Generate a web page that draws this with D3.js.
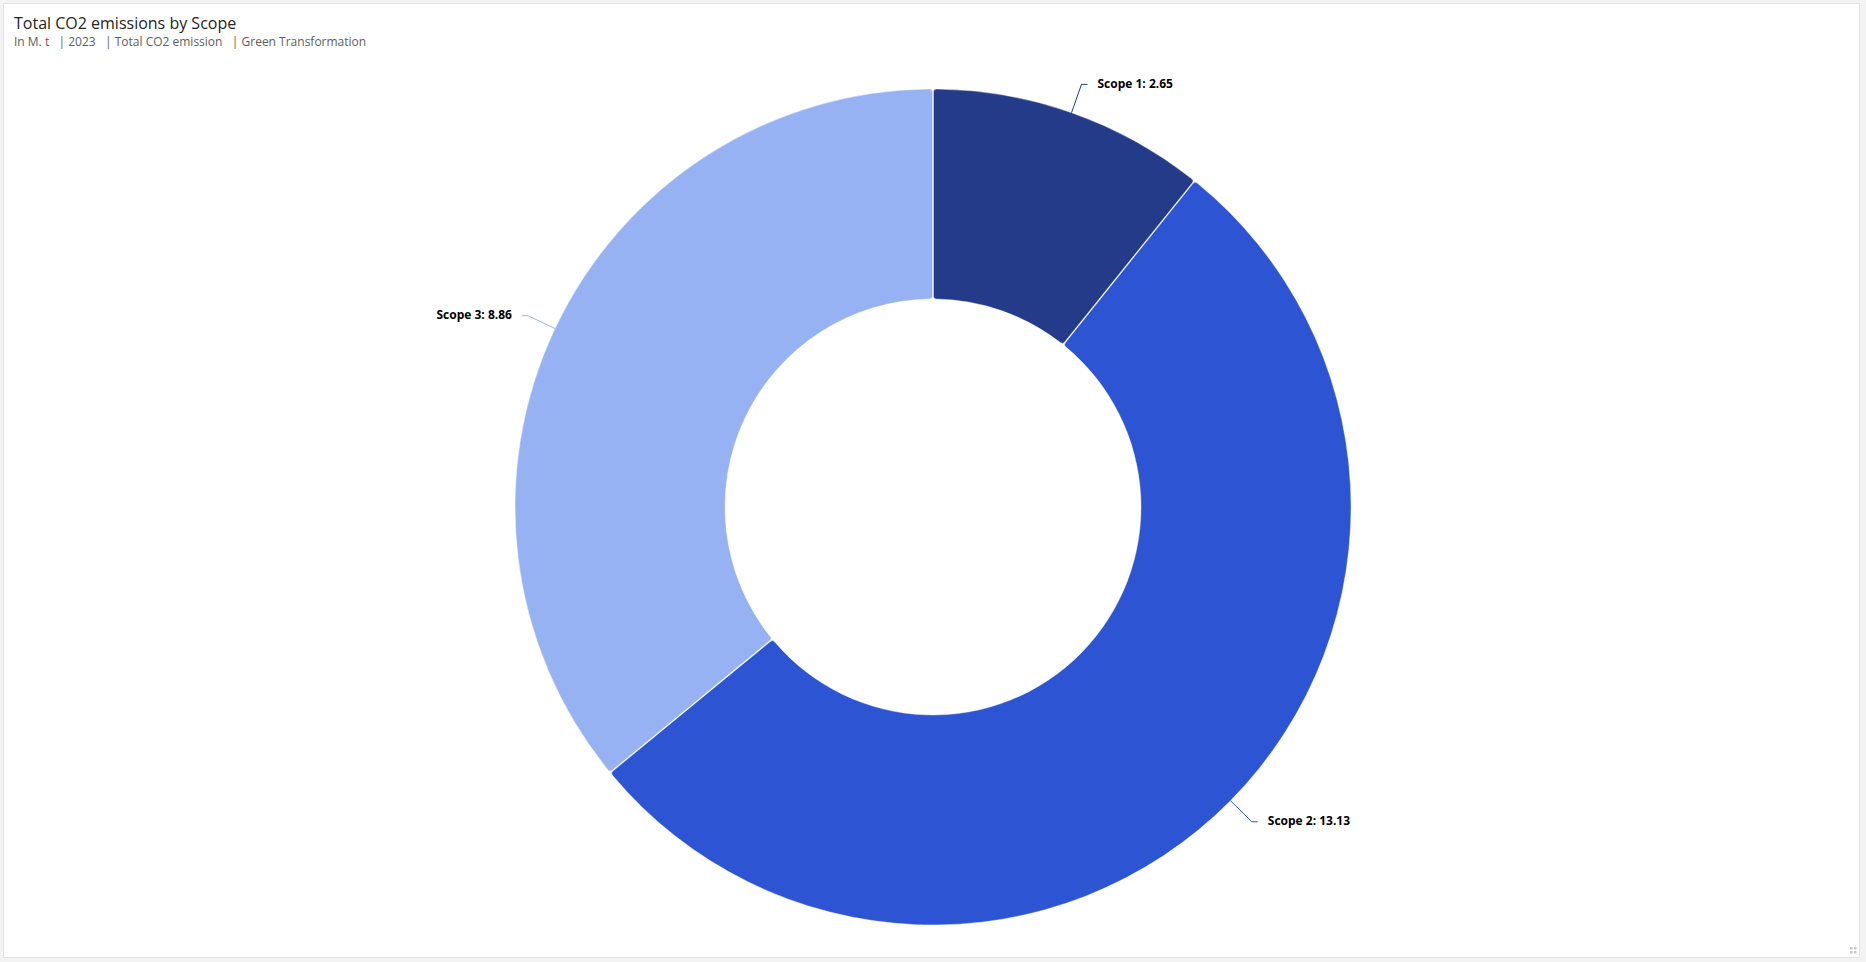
<!DOCTYPE html>
<html>
<head>
<meta charset="utf-8">
<script src="https://cdn.jsdelivr.net/npm/d3@7"></script>
<style>
  html, body { margin: 0; padding: 0; background: #f3f3f3; }
  body { width: 1866px; height: 962px; overflow: hidden; font-family: "Segoe UI", "Open Sans", sans-serif; }
  .card {
    position: absolute; left: 3px; top: 3px; width: 1857px; height: 955px;
    background: #fff; border: 1px solid #e3e3e3; box-sizing: border-box;
  }
</style>
</head>
<body>
<div class="card" id="chart"></div>
<script>
// Chart data
const categories = ["Scope 1", "Scope 2", "Scope 3"];
const values = [2.65, 13.13, 8.86];
const colors = ["#243b8a", "#2d55d3", "#97b2f3"];
const title = "Total CO2 emissions by Scope";
const subtitleParts = ["In M. t", "2023", "Total CO2 emission", "Green Transformation"];

const width = 1857, height = 955;
const cx = 929, cy = 503;
const outerR = 418, innerR = 208;

const svg = d3.select("#chart").append("svg")
    .attr("width", width)
    .attr("height", height);

// Title + subtitle
svg.append("text")
    .attr("x", 10).attr("y", 25)
    .attr("font-size", 16)
    .attr("fill", "#252423")
    .text(title);

svg.append("text")
    .attr("x", 10).attr("y", 42)
    .attr("font-size", 12)
    .attr("fill", "#605e5c")
    .attr("xml:space", "preserve")
    .text(subtitleParts.join("   | "));

const data = categories.map((c, i) => ({ name: c, value: values[i], color: colors[i] }));

const pie = d3.pie().sort(null).value(d => d.value);
const arcs = pie(data);

const arc = d3.arc()
    .innerRadius(innerR)
    .outerRadius(outerR)
    .cornerRadius(3)
    .padAngle(0.002);

const g = svg.append("g").attr("transform", `translate(${cx},${cy})`);

g.selectAll("path.slice")
    .data(arcs)
    .join("path")
    .attr("class", "slice")
    .attr("d", arc)
    .attr("fill", d => d.data.color)
    .attr("stroke", "#fff")
    .attr("stroke-width", 0.4);

// Leader lines + labels
const elbowR = outerR + 30;
const pt = (a, r) => [Math.sin(a) * r, -Math.cos(a) * r];

arcs.forEach(d => {
    const mid = (d.startAngle + d.endAngle) / 2;
    const p0 = pt(mid, outerR);
    const p1 = pt(mid, elbowR);
    const right = Math.sin(mid) >= 0;
    const p2 = [p1[0] + (right ? 6 : -6), p1[1]];

    g.append("polyline")
        .attr("points", [p0, p1, p2].map(p => p.join(",")).join(" "))
        .attr("fill", "none")
        .attr("stroke", d.data.color)
        .attr("stroke-width", 1);

    g.append("text")
        .attr("x", p2[0] + (right ? 10 : -10))
        .attr("y", p2[1])
        .attr("dy", "0.3em")
        .attr("text-anchor", right ? "start" : "end")
        .attr("font-size", 12)
        .attr("font-weight", "bold")
        .attr("fill", "#000")
        .text(`${d.data.name}: ${d.data.value}`);
});

// resize grip dots
const grip = svg.append("g").attr("fill", "#c8c8c8");
[[0, 0], [4, 0], [0, 4], [4, 4]].forEach(([dx, dy]) => {
    grip.append("rect").attr("x", 1846 + dx).attr("y", 943 + dy).attr("width", 2.5).attr("height", 2.5);
});
</script>
</body>
</html>
